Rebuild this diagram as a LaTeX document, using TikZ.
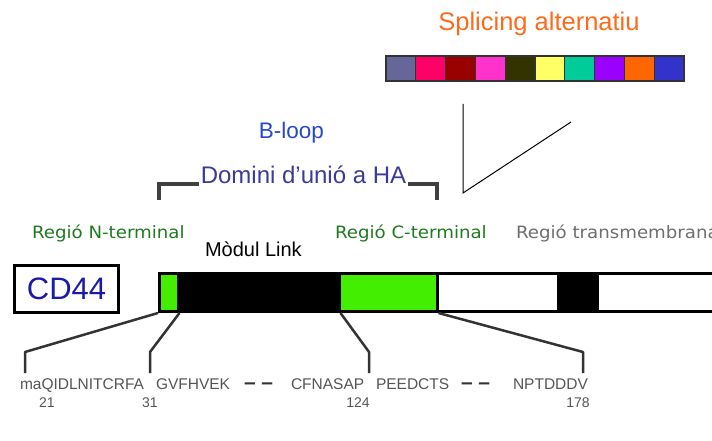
\documentclass[tikz,border=0pt]{standalone}
\usepackage{fontspec}
\setmainfont{Liberation Sans}
\newfontfamily\regfont[FakeStretch=1.07]{DejaVu Sans}

% palette
\definecolor{spA}{HTML}{666699}
\definecolor{spB}{HTML}{FF0066}
\definecolor{spC}{HTML}{990000}
\definecolor{spD}{HTML}{FF33CC}
\definecolor{spE}{HTML}{333300}
\definecolor{spF}{HTML}{FFFF66}
\definecolor{spG}{HTML}{00CC99}
\definecolor{spH}{HTML}{9900FF}
\definecolor{spI}{HTML}{FF6600}
\definecolor{spJ}{HTML}{3333CC}
\definecolor{orangetxt}{HTML}{FF6A1A}
\definecolor{bluetxt}{HTML}{2447CC}
\definecolor{indigotxt}{HTML}{3A3A99}
\definecolor{greentxt}{HTML}{1F7A1F}
\definecolor{graytxt}{HTML}{6E6E6E}
\definecolor{cdblue}{HTML}{1A1AA8}
\definecolor{domgreen}{HTML}{44EE00}
\definecolor{seqgray}{HTML}{555555}

\tikzset{
  txt/.style={inner sep=0pt, outer sep=0pt},
  cell/.style={draw=black!80, line width=1.3pt, minimum width=29.8pt,
    minimum height=25pt, inner sep=0pt},
  seg/.style={draw=black, line width=3pt, minimum height=38pt, inner sep=0pt},
  thinline/.style={draw=black, line width=1pt},
  bracket/.style={draw=black!75, line width=4.5pt},
  stalk/.style={draw=black!80, line width=2.5pt, line join=round},
  regio/.style={txt, anchor=base west, font=\regfont\fontsize{17}{20}\selectfont},
  seqtxt/.style={txt, anchor=base west, text=seqgray, font=\fontsize{15.5}{18}\selectfont},
  seqdash/.style={txt, anchor=base west, text=black!80, font=\bfseries\fontsize{21}{24}\selectfont},
  seqnum/.style={txt, anchor=base, text=seqgray, font=\fontsize{14}{16}\selectfont},
}

\begin{document}
\begin{tikzpicture}[x=1pt, y=-1pt]
\useasboundingbox (0,0) rectangle (712,441);

% alternative splicing exons
\node[txt, anchor=base, text=orangetxt, font=\fontsize{25.5}{30}\selectfont]
  (splice) at (539,31) {Splicing alternatiu};
\foreach \c [count=\i] in {spA,spB,spC,spD,spE,spF,spG,spH,spI,spJ}
  \node[cell, fill=\c] (ex\i) at ({386+29.8*(\i-0.5)},68.5) {};

% insertion site wedge
\coordinate (wedgeTop) at (463,104);
\coordinate (wedgeTip) at (463,193);
\coordinate (wedgeEnd) at (571,122);
\draw[thinline] (wedgeTop) -- (wedgeTip) -- (wedgeEnd);

% hyaluronan-binding domain
\node[txt, anchor=base, text=bluetxt, font=\fontsize{22.5}{26}\selectfont]
  (bloop) at (291.5,139) {B-loop};
\node[txt, anchor=base, text=indigotxt, font=\fontsize{24}{28}\selectfont]
  (dom) at (303.5,183) {Domini d’unió a HA};
\coordinate (brL) at (159,184);
\coordinate (brR) at (437,184);
\draw[bracket] (159,200) -- (brL) -- ([xshift=-2pt]brL -| dom.west);
\draw[bracket] ([xshift=2pt]brR -| dom.east) -- (brR) -- (437,200);

% region labels
\node[regio, text=greentxt] (nterm) at (32,238) {Regió N-terminal};
\node[txt, anchor=base west, text=black, font=\fontsize{20}{24}\selectfont]
  (link) at (205,256) {Mòdul Link};
\node[regio, text=greentxt] (cterm) at (335,238) {Regió C-terminal};
\node[regio, text=graytxt] (tmreg) at (516,238) {Regió transmembrana};

% protein name
\node[draw=black, line width=3pt, minimum width=104pt, minimum height=47pt,
  inner sep=0pt, text=cdblue, font=\fontsize{31}{36}\selectfont]
  (cd) at (66.5,288.5) {CD44};

% domain bar
\node[seg, fill=domgreen, minimum width=18.5pt] (sN) at (168.75,292.5) {};
\node[seg, fill=black, minimum width=161pt] (sLink) at (258.5,292.5) {};
\node[seg, fill=domgreen, minimum width=98pt] (sC) at (388,292.5) {};
\node[seg, fill=white, minimum width=121pt] (sStem) at (497.5,292.5) {};
\node[seg, fill=black, minimum width=39pt] (sTM) at (577.5,292.5) {};
\node[seg, fill=white, minimum width=121pt] (sCyt) at (657.5,292.5) {};

% sequence stalks
\coordinate (k1) at (25,352);  \coordinate (t1) at (25,373);
\coordinate (k2) at (150,352); \coordinate (t2) at (150,373);
\coordinate (k3) at (369,352); \coordinate (t3) at (369,373);
\coordinate (k4) at (583,352); \coordinate (t4) at (583,373);
\draw[stalk] (sN.south west) -- (k1) -- (t1);
\draw[stalk] (sN.south east) -- (k2) -- (t2);
\draw[stalk] (sLink.south east) -- (k3) -- (t3);
\draw[stalk] (sC.south east) -- (k4) -- (t4);

% sequence
\node[seqtxt] (q1) at (20,389) {maQIDLNITCRFA};
\node[seqtxt] (q2) at (156,389) {GVFHVEK};
\node[seqdash] (q3) at (244,389) {– –};
\node[seqtxt] (q4) at (291,389) {CFNASAP};
\node[seqtxt] (q5) at (376,389) {PEEDCTS};
\node[seqdash] (q6) at (461,389) {– –};
\node[seqtxt] (q7) at (513,389) {NPTDDDV};
\node[seqnum] (n1) at (47,407) {21};
\node[seqnum] (n2) at (150,407) {31};
\node[seqnum] (n3) at (358,407) {124};
\node[seqnum] (n4) at (578,407) {178};
\end{tikzpicture}
\end{document}
